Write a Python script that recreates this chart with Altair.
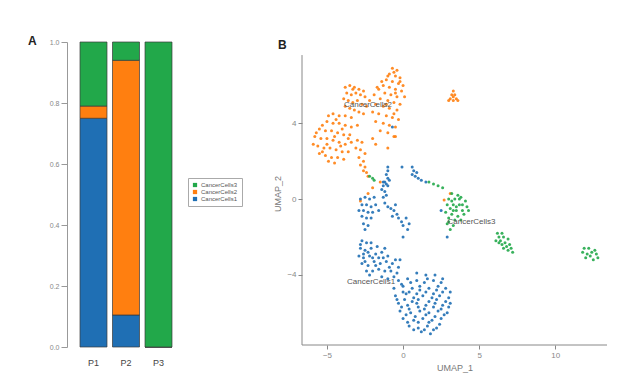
import altair as alt
import pandas as pd

FONT = "Liberation Sans"
GREEN, ORANGE, BLUE = "#22a84a", "#ff7f10", "#1f6fb4"
TYPES = ["CancerCells3", "CancerCells2", "CancerCells1"]

# ---- Panel A data ----
samples = ["P1", "P1", "P1", "P2", "P2", "P2", "P3", "P3", "P3"]
cell_types = ["CancerCells1", "CancerCells2", "CancerCells3"] * 3
proportions = [0.75, 0.04, 0.21, 0.105, 0.835, 0.06, 0.0, 0.0, 1.0]
stack_rank = [1, 2, 3] * 3

# ---- Panel B data (UMAP coordinates) ----
cc2_pts = [
    (-0.7, 6.9), (-0.4, 6.8), (-0.9, 6.6), (-0.5, 6.5), (-0.2, 6.4), (-1.1, 6.3), (-0.7, 6.2), (-0.3, 6.1),
    (0.0, 6.0), (-1.3, 6.0), (-0.9, 5.9), (-0.5, 5.8), (-0.1, 5.7), (-1.6, 5.8), (-1.2, 5.6), (-0.8, 5.5),
    (-0.4, 5.4), (0.1, 5.4), (-1.9, 5.5), (-1.5, 5.3), (-1.0, 5.2), (-0.6, 5.1), (-0.2, 5.0), (-2.2, 5.2),
    (-1.8, 5.0), (-1.3, 4.9), (-0.9, 4.8), (-0.4, 4.7), (-2.0, 4.6), (-1.6, 4.5), (-1.1, 4.4), (-0.7, 4.3),
    (-0.3, 4.2), (-1.8, 4.1), (-1.3, 4.0), (-0.9, 3.9), (-0.5, 3.8), (-1.5, 3.6), (-1.0, 3.5), (-0.6, 3.3),
    (-1.7, 5.9), (-1.4, 6.2), (-1.0, 6.5), (-0.6, 6.7), (-0.2, 6.2), (-0.5, 5.6), (-1.1, 5.0), (-0.6, 4.5),
    (-3.8, 5.9), (-3.5, 6.0), (-3.2, 5.9), (-2.9, 5.8), (-3.7, 5.6), (-3.4, 5.5), (-3.1, 5.6), (-2.8, 5.5),
    (-2.5, 5.4), (-3.9, 5.3), (-3.6, 5.2), (-3.3, 5.1), (-3.0, 5.2), (-2.7, 5.0), (-2.4, 4.9), (-3.8, 4.9),
    (-3.5, 4.8), (-3.2, 4.7), (-2.9, 4.6), (-2.6, 4.5), (-3.3, 5.8), (-2.6, 5.7),
    (-4.6, 4.5), (-4.2, 4.4), (-3.8, 4.4), (-3.4, 4.3), (-5.0, 4.1), (-4.6, 4.0), (-4.2, 4.0), (-3.8, 3.9),
    (-3.4, 3.8), (-3.0, 3.9), (-5.5, 3.7), (-5.1, 3.6), (-4.7, 3.6), (-4.3, 3.5), (-3.9, 3.4), (-3.5, 3.4),
    (-5.8, 3.3), (-5.4, 3.2), (-5.0, 3.2), (-4.6, 3.1), (-4.2, 3.0), (-3.8, 2.9), (-3.4, 3.0), (-5.9, 2.9),
    (-5.6, 2.8), (-5.2, 2.7), (-4.8, 2.7), (-4.4, 2.6), (-4.0, 2.5), (-3.6, 2.5), (-5.5, 2.4), (-5.1, 2.3),
    (-4.7, 2.2), (-4.3, 2.2), (-3.9, 2.1), (-4.9, 2.0), (-4.5, 1.9), (-5.7, 3.5), (-5.3, 3.9), (-4.9, 4.4),
    (-4.4, 4.2), (-4.0, 3.7), (-3.6, 3.2), (-4.1, 2.8), (-5.3, 2.5), (-5.0, 2.9), (-4.5, 3.3),
    (-3.0, 3.1), (-2.7, 3.0), (-3.1, 2.7), (-2.8, 2.6), (-2.5, 2.4), (-2.9, 2.2), (-2.6, 2.0), (-2.8, 1.8),
    (-2.5, 1.7), (-2.6, 1.5), (-2.4, 1.4), (-2.3, 1.2), (-2.0, 3.2), (-1.8, 2.9), (-1.0, 2.7), (-0.5, 3.3),
    (-2.0, 0.6), (-2.3, 0.3), (-1.5, 0.9), (-2.8, -0.1), (2.7, -0.05), (3.1, 0.3),
    (3.3, 5.7), (3.2, 5.5), (3.4, 5.5), (3.1, 5.3), (3.5, 5.3), (3.3, 5.4), (3.0, 5.2), (3.6, 5.2), (3.3, 5.2),
]
cc1_pts = [
    (0.9, -3.9), (1.5, -4.0), (2.1, -4.0), (-0.3, -4.3), (0.3, -4.2), (0.9, -4.3), (1.4, -4.4), (2.0, -4.3),
    (2.5, -4.4), (-0.6, -4.7), (0.0, -4.6), (0.6, -4.7), (1.1, -4.8), (1.7, -4.7), (2.2, -4.8), (2.8, -4.7),
    (-0.5, -5.1), (0.2, -5.0), (0.7, -5.2), (1.3, -5.1), (1.9, -5.2), (2.4, -5.1), (3.0, -5.2), (-0.3, -5.5),
    (0.3, -5.6), (0.9, -5.5), (1.5, -5.6), (2.1, -5.5), (2.6, -5.6), (3.1, -5.5), (-0.2, -5.9), (0.5, -6.0),
    (1.1, -5.9), (1.7, -6.0), (2.3, -5.9), (2.9, -6.0), (0.0, -6.3), (0.7, -6.4), (1.3, -6.3), (1.9, -6.4),
    (2.5, -6.3), (0.4, -6.7), (1.0, -6.8), (1.6, -6.7), (2.2, -6.8), (1.2, -7.0), (1.8, -7.1),
    (-0.1, -4.5), (0.5, -4.4), (1.1, -4.6), (1.6, -4.2), (2.3, -4.6), (2.6, -4.2), (0.0, -4.9), (0.4, -4.9),
    (0.9, -5.0), (1.5, -4.9), (2.0, -5.0), (2.6, -4.9), (3.1, -4.9), (-0.4, -5.3), (0.1, -5.3), (0.6, -5.4),
    (1.0, -5.3), (1.7, -5.4), (2.2, -5.3), (2.8, -5.4), (-0.1, -5.7), (0.4, -5.8), (1.0, -5.7), (1.4, -5.8),
    (2.0, -5.7), (2.5, -5.8), (3.0, -5.7), (0.2, -6.1), (0.8, -6.2), (1.5, -6.1), (2.1, -6.2), (2.7, -6.1),
    (0.3, -6.5), (1.0, -6.5), (1.7, -6.5), (2.4, -6.6), (0.7, -6.9), (1.4, -6.9), (2.0, -6.9),
    (-2.7, -2.2), (-2.4, -2.3), (-2.8, -2.6), (-2.5, -2.7), (-2.1, -2.6), (-1.7, -2.5), (-2.9, -3.0),
    (-2.6, -3.1), (-2.2, -3.0), (-1.8, -2.9), (-1.4, -2.8), (-1.0, -3.0), (-2.7, -3.4), (-2.3, -3.5),
    (-1.9, -3.3), (-1.5, -3.4), (-1.1, -3.3), (-0.7, -3.4), (-0.3, -3.6), (-2.4, -3.8), (-2.0, -3.8),
    (-1.6, -3.7), (-1.2, -3.8), (-0.8, -3.8), (-0.4, -3.9), (-1.4, -4.1), (-1.0, -4.2), (-0.6, -4.1),
    (-2.6, -2.9), (-2.0, -3.1), (-1.3, -3.1), (-2.2, -4.0), (-0.2, -3.2), (-2.5, -3.3), (-2.8, -2.4),
    (-2.3, -2.8), (-1.6, -3.1), (-0.9, -3.6), (-1.8, -3.5), (-2.1, -2.3), (-0.5, -3.2), (-1.2, -2.6),
    (-2.8, 0.0), (-2.5, 0.1), (-2.2, 0.0), (-1.9, 0.1), (-2.7, -0.3), (-2.4, -0.3), (-2.1, -0.4),
    (-1.8, -0.3), (-2.9, -0.6), (-2.6, -0.6), (-2.3, -0.7), (-2.0, -0.7), (-2.7, -0.9), (-2.4, -1.0),
    (-2.1, -1.0), (-2.6, -1.3), (-2.3, -1.4), (-2.5, -1.6), (-1.6, -0.6),
    (-1.2, -0.2), (-1.0, -0.4), (-0.8, -0.5), (-0.6, -0.6), (-0.4, -0.8), (-0.7, -0.9), (-0.3, -1.0),
    (-0.1, -1.2), (0.2, -1.0), (0.4, -1.3), (0.3, -1.6), (-0.5, -0.3), (-1.3, 0.1), (0.0, -1.4), (0.0, -2.0),
    (-1.0, 1.7), (-1.0, 1.5), (-1.1, 1.3), (-1.0, 1.1), (-1.2, 0.9), (-1.1, 0.8), (-1.3, 0.7), (-1.0, 0.7),
    (-1.4, 0.5), (-1.2, 0.4), (-1.1, 0.2), (-1.3, 0.9), (-0.9, 1.0),
    (0.6, 1.7), (0.7, 1.5), (0.9, 1.4), (0.8, 1.2), (1.0, 1.1), (1.2, 1.0), (1.5, 0.9), (0.6, 1.3),
    (-0.07, 1.7), (-0.7, 3.8), (2.5, -0.6), (2.9, -2.0),
]
cc3_pts = [
    (3.2, 0.3), (3.6, 0.2), (3.0, 0.0), (3.4, 0.0), (3.8, 0.1), (4.1, -0.1), (2.9, -0.3), (3.3, -0.3),
    (3.7, -0.3), (4.2, -0.4), (3.1, -0.5), (3.5, -0.6), (3.9, -0.6), (2.8, -0.7), (3.2, -0.8), (3.6, -0.9),
    (4.0, -0.8), (3.0, -1.0), (3.4, -1.1), (3.8, -1.1), (2.9, -1.3), (3.3, -1.4), (3.1, -1.6), (3.5, -0.4),
    (3.7, 0.0), (3.2, -0.1), (3.9, -0.3), (3.3, -0.6), (3.0, -1.2), (4.3, -0.6),
    (1.7, 0.9), (2.0, 0.8), (2.3, 0.7), (2.6, 0.6),
    (6.2, -1.8), (6.5, -1.8), (6.3, -2.0), (6.6, -2.0), (6.9, -2.1), (6.1, -2.2), (6.4, -2.2), (6.7, -2.3),
    (7.0, -2.4), (6.5, -2.4), (6.8, -2.5), (7.1, -2.6), (6.9, -2.7), (7.2, -2.8), (6.6, -2.6), (6.3, -2.3),
    (11.9, -2.6), (12.2, -2.6), (12.6, -2.7), (11.8, -2.8), (12.1, -2.9), (12.4, -2.8), (12.7, -2.9),
    (12.0, -3.1), (12.3, -3.0), (12.8, -3.1), (12.5, -3.2),
    (-2.2, 1.2), (-2.0, 1.1), (-1.9, 1.0),
]
label_names = ["CancerCells2", "CancerCells3", "CancerCells1"]
label_x = [-2.3, 4.5, -2.1]
label_y = [4.95, -1.2, -4.4]

x_min, x_max = -6.64, 13.4
y_min, y_max = -7.7, 7.6
y_view_max = 8.29  # panel B's frame sits a little lower than panel A's

# ---- build tables ----
bar_df = pd.DataFrame({"sample": samples, "type": cell_types, "prop": proportions, "rank": stack_rank})
rows = []
for name, pts in [("CancerCells2", cc2_pts), ("CancerCells1", cc1_pts), ("CancerCells3", cc3_pts)]:
    for x, y in pts:
        rows.append({"x": x, "y": y, "type": name})
pt_df = pd.DataFrame(rows)
lab_df = pd.DataFrame({"label": label_names, "x": label_x, "y": label_y})

color_scale = alt.Scale(domain=TYPES, range=[GREEN, ORANGE, BLUE])

bars = alt.Chart(bar_df).mark_bar(stroke="#3a3a3a", strokeWidth=0.7).encode(
    x=alt.X("sample:N", scale=alt.Scale(paddingInner=0.17, paddingOuter=0.4),
            axis=alt.Axis(title=None, labelAngle=0, domain=False, ticks=False, labelPadding=11,
                          labelFontSize=9, labelColor="#444")),
    y=alt.Y("prop:Q", stack="zero", scale=alt.Scale(domain=[0, 1], nice=False),
            axis=alt.Axis(title=None, values=[0, 0.2, 0.4, 0.6, 0.8, 1.0], format=".1f", grid=False,
                          domainColor="#999", tickColor="#999", labelColor="#888", labelFontSize=7,
                          tickSize=6, labelPadding=2)),
    color=alt.Color("type:N", scale=color_scale,
                    legend=alt.Legend(title=None, orient="none", legendX=121, legendY=136,
                                      strokeColor="#aaa", padding=4, symbolType="square",
                                      symbolSize=18, labelFontSize=6, labelColor="#555",
                                      rowPadding=1, symbolStrokeWidth=0, labelOffset=3)),
    order=alt.Order("rank:Q"),
).properties(
    width=118, height=305,
    title=alt.TitleParams("A", anchor="start", frame="group", dx=-39, fontSize=12,
                          fontWeight="bold", color="#222", offset=-10),
)

ax_style = dict(grid=False, domain=False, tickColor="#888", labelColor="#888", labelFontSize=8,
                titleFontSize=9, titleFontWeight="normal", titleColor="#777", tickSize=4)
points = alt.Chart(pt_df).mark_circle(size=9, opacity=0.9).encode(
    x=alt.X("x:Q", scale=alt.Scale(domain=[x_min, x_max], nice=False, zero=False),
            axis=alt.Axis(title="UMAP_1", values=[-5, 0, 5, 10], **ax_style)),
    y=alt.Y("y:Q", scale=alt.Scale(domain=[y_min, y_view_max], nice=False, zero=False),
            axis=alt.Axis(title="UMAP_2", values=[-4, 0, 4], **ax_style)),
    color=alt.Color("type:N", scale=color_scale, legend=None),
)
y_line = alt.Chart().mark_rule(color="#888", strokeWidth=1).encode(
    x=alt.datum(x_min), y=alt.datum(y_min), y2=alt.datum(y_max)
)
x_line = alt.Chart().mark_rule(color="#888", strokeWidth=1).encode(
    x=alt.datum(x_min), x2=alt.datum(x_max), y=alt.datum(y_min)
)
labels = alt.Chart(lab_df).mark_text(fontSize=8, color="#555").encode(
    x="x:Q", y="y:Q", text="label:N"
)
scatter = alt.layer(points, y_line, x_line, labels).properties(
    width=305, height=303,
    title=alt.TitleParams("B", anchor="start", frame="group", dx=-24, fontSize=12,
                          fontWeight="bold", color="#222", offset=-10),
)

chart = alt.hconcat(bars, scatter, spacing=30).resolve_scale(color="independent").configure(
    font=FONT,
    padding={"left": 20, "top": 27, "right": 5, "bottom": 5},
).configure_view(stroke=None)

chart.save("out.html", embed_options={"renderer": "svg", "actions": False})
